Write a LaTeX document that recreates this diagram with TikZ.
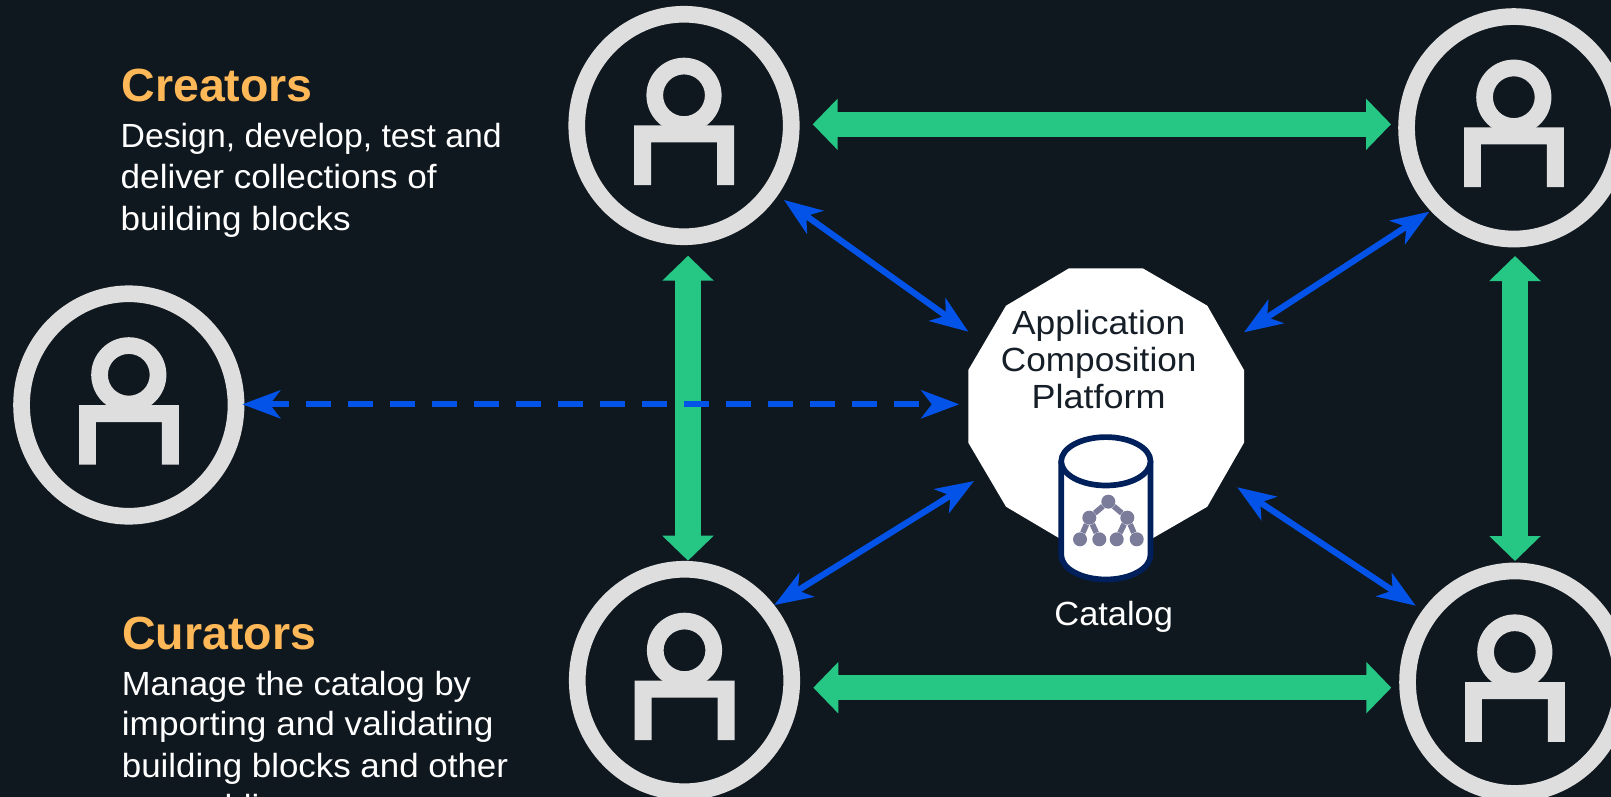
\documentclass[tikz,border=0pt]{standalone}
\usepackage{fontspec}
\usetikzlibrary{arrows.meta,shapes.geometric}
\setmainfont{Liberation Sans}
\definecolor{bgc}{HTML}{10181F}
\definecolor{ringc}{HTML}{DEDEDE}
\definecolor{greenc}{HTML}{26C784}
\definecolor{bluec}{HTML}{0353E9}
\definecolor{orangec}{HTML}{FFB857}
\definecolor{navyc}{HTML}{00205B}
\definecolor{treec}{HTML}{7B7B9A}
\definecolor{darktxt}{HTML}{161E27}
\tikzset{
  person/.style={ellipse,draw=ringc,line width=16.7pt,minimum width=214.5pt,minimum height=222.5pt,inner sep=0pt,outer sep=0pt},
  fat/.style={draw=greenc,line width=25.5pt,{Triangle[length=25pt,width=50pt,fill=greenc]}-{Triangle[length=25pt,width=50pt,fill=greenc]}},
  thin/.style={draw=bluec,line width=6.2pt,{Stealth[length=38pt,width=28pt,inset=10.5pt,fill=bluec]}-{Stealth[length=38pt,width=28pt,inset=10.5pt,fill=bluec]}},
  heading/.style={anchor=base west,inner sep=0pt,text=orangec,font=\fontsize{46.5}{46.5}\selectfont\bfseries},
  body/.style={anchor=base west,inner sep=0pt,text=white,transform shape,font=\fontsize{33.5}{33.5}\selectfont},
  plat/.style={anchor=base,inner sep=0pt,text=darktxt,transform shape,font=\fontsize{33.5}{33.5}\selectfont},
  dot/.style={circle,fill=treec,inner sep=0pt,minimum size=14pt},
  twig/.style={draw=treec,line width=5.6pt},
  figure/.pic={
    \fill[ringc,even odd rule] (0,-30.2) circle[radius=37.6] (0,-30.2) circle[radius=20.9];
    \fill[ringc] (-49.8,0) -- (50,0) -- (50,59.7) -- (33,59.7) -- (33,17) -- (-33,17) -- (-33,59.7) -- (-49.8,59.7) -- cycle;
  }
}
\begin{document}
\begin{tikzpicture}[x=1pt,y=-1pt]
\useasboundingbox (0,0) rectangle (1611,797);
\clip (0,0) rectangle (1611,797);
\fill[bgc] (0,0) rectangle (1611,797);
% platform
\fill[white] (1069,268.3) -- (1142.7,268.3) -- (1207.3,305.7) -- (1244,370) -- (1244,442.7) -- (1207.3,506.7) -- (1142.7,544) -- (1069,544) -- (1006,506.7) -- (968.3,442.7) -- (968.3,370) -- (1006,305.7) -- cycle;
\coordinate (pf) at (1106.7,406);
% actors
\node[person] (tl) at (684,125.5) {};
\node[person] (tr) at (1513.8,127.8) {};
\node[person] (bl) at (684.5,680.5) {};
\node[person] (br) at (1514.8,682.2) {};
\node[person] (lf) at (128.8,405) {};
\foreach \n/\dy in {tl/0,tr/-0.4,bl/0,br/0,lf/0}{
  \pic at ([shift={(0,\dy)}]\n.center) {figure};
}
% green
\draw[fat] ([shift={(128.7,-1.2)}]tl.center) -- ([shift={(-122.8,-3.5)}]tr.center);
\draw[fat] ([shift={(128.8,7.2)}]bl.center) -- ([shift={(-123.5,5.5)}]br.center);
\draw[fat] ([shift={(4,130.2)}]tl.center) -- ([shift={(3.5,-119.8)}]bl.center);
\draw[fat] ([shift={(1.2,128.2)}]tr.center) -- ([shift={(0.2,-121.2)}]br.center);
% blue
\draw[thin] ([shift={(100,74.5)}]tl.center) -- ([shift={(-138.4,-74.3)}]pf);
\draw[thin] ([shift={(-84.5,83.9)}]tr.center) -- ([shift={(137.3,-73.7)}]pf);
\draw[thin] ([shift={(89.8,-75.5)}]bl.center) -- ([shift={(-132.7,75)}]pf);
\draw[thin] ([shift={(-99.1,-76.5)}]br.center) -- ([shift={(130.6,81.3)}]pf);
\draw[thin,dash pattern=on 25pt off 17pt,dash phase=3.8pt] ([shift={(113.5,-0.7)}]lf.center) -- ([shift={(-147.4,-1.7)}]pf);
% catalog
\draw[navyc,line width=5.7pt,fill=white] (1061.2,461.3) -- (1061.2,555) arc[start angle=180,end angle=360,x radius=44.65,y radius=-24.5] -- (1150.5,461.3);
\draw[navyc,line width=5.7pt,fill=white] (1105.85,461.3) ellipse[x radius=44.65,y radius=24.2];
\node[dot] (t0) at (1108.3,501.7) {};
\node[dot] (t1) at (1089.3,517.7) {};
\node[dot] (t2) at (1127.3,517.7) {};
\node[dot] (t3) at (1080,539.3) {};
\node[dot] (t4) at (1099.3,539.3) {};
\node[dot] (t5) at (1116.7,539.3) {};
\node[dot] (t6) at (1136.7,539.3) {};
\draw[twig] (t0) -- (t1);\draw[twig] (t0) -- (t2);\draw[twig] (t1) -- (t3);\draw[twig] (t1) -- (t4);\draw[twig] (t2) -- (t5);\draw[twig] (t2) -- (t6);
% text
\node[heading] (h1) at (121.4,101.7) {Creators};
\node[body,xscale=1.008] (b1) at (120.5,147.3) {Design, develop, test and};
\node[body,xscale=1.048] (b2) at (120.5,188.3) {deliver collections of};
\node[body,xscale=1.047] (b3) at (120.5,230.7) {building blocks};
\node[heading] (h2) at (122,649) {Curators};
\node[body,xscale=1.03] (c1) at (121.7,695) {Manage the catalog by};
\node[body,xscale=1.05] (c2) at (121.7,735.7) {importing and validating};
\node[body,xscale=1.042] (c3) at (121.7,777.3) {building blocks and other};
\node[body,xscale=1.04] (c4) at (121.7,818.5) {assemblies};
\node[plat,xscale=1.057] (p1) at (1098.7,334.3) {Application};
\node[plat,xscale=1.05] (p2) at (1098.7,371) {Composition};
\node[plat,xscale=1.074] (p3) at (1098.7,408.3) {Platform};
\node[plat,xscale=1.027,text=white] (cat) at (1113.7,625.5) {Catalog};
\end{tikzpicture}
\end{document}
